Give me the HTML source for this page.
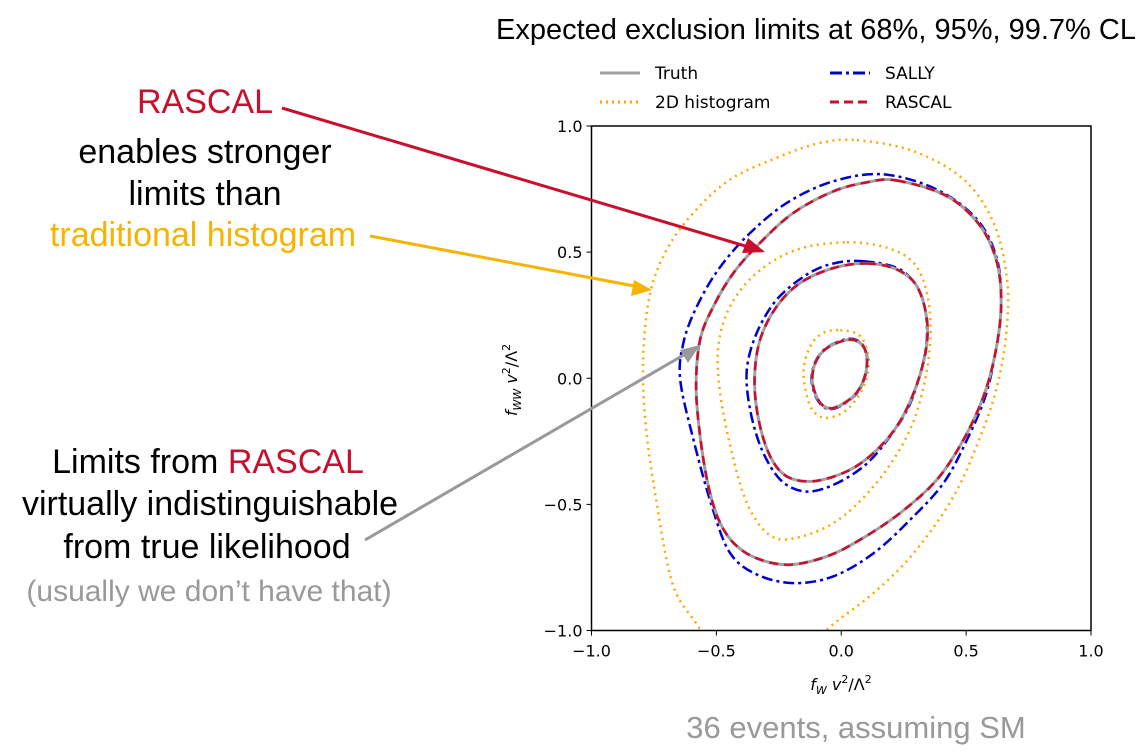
<!DOCTYPE html>
<html><head><meta charset="utf-8"><style>
body{margin:0;background:#fff;width:1148px;height:754px;overflow:hidden}
svg{display:block}
.ann{font-family:"Liberation Sans",sans-serif;font-size:34px;text-anchor:middle}
.tk{font-family:"DejaVu Sans",sans-serif;font-size:16px}
</style></head><body>
<svg id="chart" width="1148" height="754" viewBox="0 0 1148 754">
<defs><clipPath id="plotclip"><rect x="591.5" y="126" width="499.5" height="504.5"/></clipPath></defs>
<text x="816" y="39" font-family="Liberation Sans,sans-serif" font-size="29" text-anchor="middle">Expected exclusion limits at 68%, 95%, 99.7% CL</text>
<g font-family="DejaVu Sans,sans-serif" font-size="17">
<g><line x1="600" y1="73" x2="640" y2="73" stroke="#a0a0a0" stroke-width="3"/><text x="655" y="79">Truth</text></g>
<g><line x1="600" y1="102" x2="640" y2="102" stroke="#ffa500" stroke-width="3" stroke-dasharray="2,4"/><text x="655" y="108">2D histogram</text></g>
<g><line x1="830" y1="73" x2="870" y2="73" stroke="#0000cc" stroke-width="3" stroke-dasharray="12,4,3,4"/><text x="885" y="79">SALLY</text></g>
<g><line x1="830" y1="102" x2="870" y2="102" stroke="#c8102e" stroke-width="3" stroke-dasharray="9,5"/><text x="885" y="108">RASCAL</text></g>
</g>
<g id="plot" clip-path="url(#plotclip)"></g>
<rect x="591.5" y="126" width="499.5" height="504.5" fill="none" stroke="#000" stroke-width="1.5"/>
<g id="axes"></g>
<text x="841" y="690" font-family="DejaVu Sans,sans-serif" font-size="16" text-anchor="middle" font-style="italic">f<tspan font-size="11" dy="4">W</tspan><tspan dy="-4"> v</tspan><tspan font-size="11" dy="-7" font-style="normal">2</tspan><tspan dy="7" font-style="normal">/Λ</tspan><tspan font-size="11" dy="-7" font-style="normal">2</tspan></text>
<text transform="translate(517,380) rotate(-90)" font-family="DejaVu Sans,sans-serif" font-size="16" text-anchor="middle" font-style="italic">f<tspan font-size="11" dy="4">WW</tspan><tspan dy="-4"> v</tspan><tspan font-size="11" dy="-7" font-style="normal">2</tspan><tspan dy="7" font-style="normal">/Λ</tspan><tspan font-size="11" dy="-7" font-style="normal">2</tspan></text>
<g class="ann">
<text x="205" y="113" fill="#c8102e">RASCAL</text>
<text x="205" y="163">enables stronger</text>
<text x="205" y="205">limits than</text>
<text x="203" y="246" fill="#f5b400">traditional histogram</text>
</g>
<g class="ann">
<text x="208" y="473">Limits from <tspan fill="#c8102e">RASCAL</tspan></text>
<text x="210" y="515">virtually indistinguishable</text>
<text x="207" y="558">from true likelihood</text>
<text x="209" y="601" fill="#999" font-size="30">(usually we don’t have that)</text>
</g>
<line x1="282" y1="108" x2="762" y2="251" stroke="#c8102e" stroke-width="3"/>
<polygon points="765,252 742,253 748,238" fill="#c8102e"/>
<line x1="370" y1="236" x2="645" y2="288" stroke="#f5b400" stroke-width="3"/>
<polygon points="652,290 631,296 634,280" fill="#f5b400"/>
<line x1="365" y1="540" x2="694" y2="349" stroke="#999" stroke-width="3"/>
<polygon points="700,345 688,363 680,350" fill="#999"/>
<text x="856" y="738" font-family="Liberation Sans,sans-serif" font-size="31" fill="#999" text-anchor="middle">36 events,  assuming SM</text>
</svg>
<script>
const xTicks=[-1.0,-0.5,0.0,0.5,1.0];
const yTicks=[-1.0,-0.5,0.0,0.5,1.0];
const tickLabels=["\u22121.0","\u22120.5","0.0","0.5","1.0"];
const truthOuter=[[0.223,0.784],[0.423,0.722],[0.557,0.603],[0.624,0.457],[0.640,0.285],[0.617,0.100],[0.570,-0.071],[0.490,-0.243],[0.383,-0.402],[0.236,-0.534],[0.076,-0.640],[-0.057,-0.706],[-0.204,-0.739],[-0.325,-0.719],[-0.418,-0.666],[-0.485,-0.574],[-0.532,-0.428],[-0.565,-0.230],[-0.581,-0.032],[-0.565,0.153],[-0.512,0.285],[-0.431,0.418],[-0.325,0.537],[-0.191,0.656],[-0.031,0.741],[0.103,0.777]];
const truthMiddle=[[0.103,0.455],[0.223,0.431],[0.303,0.365],[0.343,0.233],[0.337,0.100],[0.290,-0.058],[0.223,-0.190],[0.130,-0.296],[0.023,-0.369],[-0.111,-0.408],[-0.218,-0.389],[-0.285,-0.309],[-0.331,-0.164],[-0.347,-0.005],[-0.325,0.153],[-0.258,0.285],[-0.164,0.378],[-0.031,0.437]];
const truthInner=[[0.029,0.153],[0.083,0.133],[0.103,0.074],[0.090,-0.005],[0.049,-0.071],[-0.031,-0.118],[-0.084,-0.098],[-0.115,-0.019],[-0.104,0.061],[-0.057,0.120]];
const sallyOuter=[[0.170,0.808],[0.383,0.748],[0.544,0.629],[0.624,0.471],[0.640,0.285],[0.617,0.100],[0.577,-0.071],[0.504,-0.243],[0.410,-0.415],[0.277,-0.560],[0.130,-0.693],[-0.031,-0.785],[-0.191,-0.812],[-0.338,-0.778],[-0.445,-0.693],[-0.518,-0.508],[-0.592,-0.243],[-0.645,-0.005],[-0.632,0.140],[-0.585,0.270],[-0.500,0.420],[-0.378,0.563],[-0.218,0.695],[-0.031,0.781]];
const sallyMiddle=[[0.090,0.464],[0.236,0.431],[0.317,0.338],[0.343,0.206],[0.330,0.074],[0.277,-0.098],[0.196,-0.230],[0.090,-0.349],[-0.044,-0.428],[-0.151,-0.448],[-0.244,-0.402],[-0.318,-0.283],[-0.365,-0.124],[-0.378,0.034],[-0.338,0.180],[-0.258,0.312],[-0.138,0.411],[-0.031,0.455]];
const sallyInner=[[0.029,0.156],[0.083,0.136],[0.105,0.074],[0.092,-0.005],[0.052,-0.071],[-0.031,-0.121],[-0.086,-0.100],[-0.118,-0.019],[-0.106,0.061],[-0.058,0.122]];
const histOuter=[[0.063,0.944],[0.290,0.900],[0.490,0.788],[0.610,0.616],[0.664,0.391],[0.661,0.180],[0.624,-0.032],[0.557,-0.230],[0.450,-0.468],[0.290,-0.693],[0.130,-0.851],[-0.057,-0.997],[-0.100,-1.080],[-0.560,-1.080],[-0.565,-0.997],[-0.672,-0.825],[-0.739,-0.494],[-0.785,-0.164],[-0.792,0.100],[-0.765,0.338],[-0.699,0.510],[-0.592,0.656],[-0.445,0.788],[-0.244,0.880],[-0.084,0.933]];
const histMiddle=[[0.023,0.539],[0.183,0.517],[0.290,0.457],[0.343,0.338],[0.357,0.167],[0.330,-0.032],[0.263,-0.230],[0.130,-0.428],[-0.031,-0.574],[-0.204,-0.637],[-0.298,-0.613],[-0.378,-0.494],[-0.438,-0.296],[-0.485,-0.058],[-0.492,0.127],[-0.445,0.285],[-0.338,0.418],[-0.178,0.510]];
const histInner=[[-0.004,0.190],[0.076,0.167],[0.110,0.074],[0.090,-0.032],[0.023,-0.124],[-0.064,-0.157],[-0.124,-0.111],[-0.151,0.021],[-0.124,0.127],[-0.071,0.180]];

const X0=591.5,X1=1091,Y0=630.5,Y1=126;
function sx(v){return X0+(v+1)/2*(X1-X0);}
function sy(v){return Y0-(v+1)/2*(Y0-Y1);}
const NS='http://www.w3.org/2000/svg';
function smooth(pts){
  const p=pts.map(d=>[sx(d[0]),sy(d[1])]);const n=p.length;
  let d='M'+p[0][0].toFixed(1)+','+p[0][1].toFixed(1);
  for(let i=0;i<n;i++){
    const a=p[(i-1+n)%n],b=p[i],c=p[(i+1)%n],e=p[(i+2)%n];
    const c1=[b[0]+(c[0]-a[0])/6,b[1]+(c[1]-a[1])/6],c2=[c[0]-(e[0]-b[0])/6,c[1]-(e[1]-b[1])/6];
    d+='C'+c1[0].toFixed(1)+','+c1[1].toFixed(1)+' '+c2[0].toFixed(1)+','+c2[1].toFixed(1)+' '+c[0].toFixed(1)+','+c[1].toFixed(1);
  }
  return d+'Z';
}
const plot=document.getElementById('plot');
function draw(pts,name,stroke,dash,w){
  const el=document.createElementNS(NS,'path');
  el.setAttribute('d',smooth(pts));
  el.setAttribute('fill','none');el.setAttribute('stroke',stroke);el.setAttribute('stroke-width',w);
  if(dash)el.setAttribute('stroke-dasharray',dash);
  
  
  plot.appendChild(el);
}
draw(histOuter,'histogram-contour-997','#ffa500','2,4.5',2.5);
draw(histMiddle,'histogram-contour-95','#ffa500','2,4.5',2.5);
draw(histInner,'histogram-contour-68','#ffa500','2,4.5',2.5);
draw(sallyOuter,'sally-contour-997','#0000cc','11,4,3,4',2.5);
draw(sallyMiddle,'sally-contour-95','#0000cc','11,4,3,4',2.5);
draw(sallyInner,'sally-contour-68','#0000cc','11,4,3,4',2.5);
draw(truthOuter,'truth-contour-997','#a0a0a0','',3);
draw(truthMiddle,'truth-contour-95','#a0a0a0','',3);
draw(truthInner,'truth-contour-68','#a0a0a0','',3);
draw(truthOuter,'rascal-contour-997','#c8102e','9,6',2.5);
draw(truthMiddle,'rascal-contour-95','#c8102e','9,6',2.5);
draw(truthInner,'rascal-contour-68','#c8102e','9,6',2.5);
const axes=document.getElementById('axes');
xTicks.forEach((v,i)=>{
  const l=document.createElementNS(NS,'line');
  l.setAttribute('x1',sx(v));l.setAttribute('x2',sx(v));l.setAttribute('y1',Y0);l.setAttribute('y2',Y0+5);l.setAttribute('stroke','#000');
  
  
  axes.appendChild(l);
  const t=document.createElementNS(NS,'text');
  t.setAttribute('x',sx(v));t.setAttribute('y',Y0+26);t.setAttribute('text-anchor','middle');t.setAttribute('class','tk');
  t.textContent=tickLabels[i];
  
  
  axes.appendChild(t);
});
yTicks.forEach((v,i)=>{
  const l=document.createElementNS(NS,'line');
  l.setAttribute('x1',X0-5);l.setAttribute('x2',X0);l.setAttribute('y1',sy(v));l.setAttribute('y2',sy(v));l.setAttribute('stroke','#000');
  
  
  axes.appendChild(l);
  const t=document.createElementNS(NS,'text');
  t.setAttribute('x',X0-9);t.setAttribute('y',sy(v)+6);t.setAttribute('text-anchor','end');t.setAttribute('class','tk');
  t.textContent=tickLabels[i];
  
  
  axes.appendChild(t);
});
</script>
</body></html>
